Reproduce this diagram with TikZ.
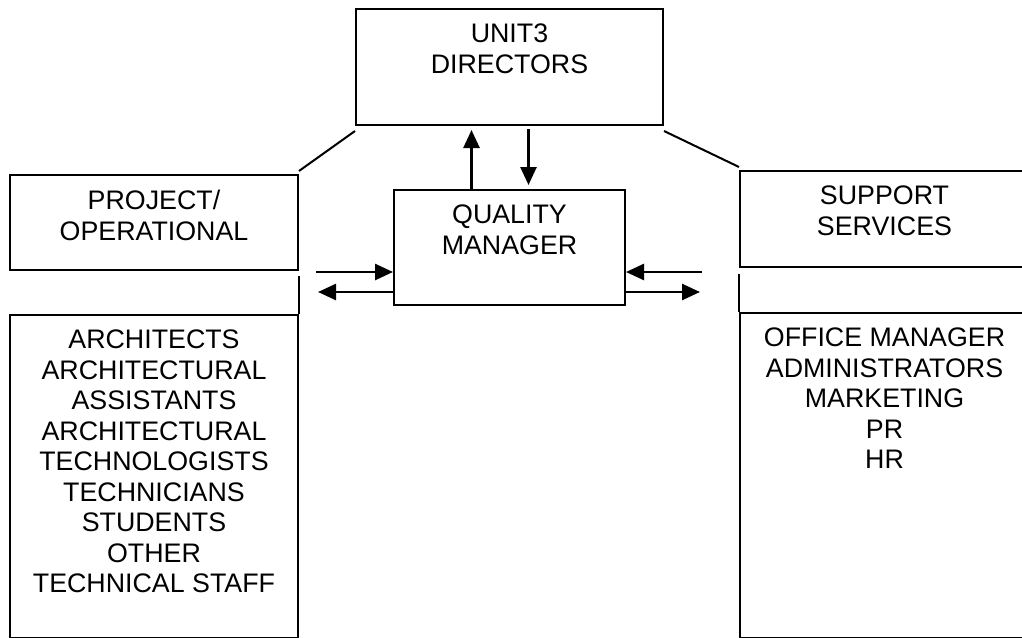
\documentclass[tikz,border=0pt]{standalone}
\usepackage{fontspec}
\setmainfont{Liberation Sans}
\usetikzlibrary{arrows.meta,positioning}

\begin{document}
\begin{tikzpicture}[
                    x=1pt, y=-1pt,
                    unit/.style={
                        rectangle,
                        draw=black,
                        line width=2pt,
                        anchor=north west,
                        inner sep=0pt
                    },
                    caption/.style={
                        align=center,
                        inner sep=0pt,
                        font=\fontsize{26.8}{30.5}\selectfont
                    },
                    link/.style={line width=2pt},
                    flow/.style={->, line width=2.6pt},
                    >={Triangle[length=18pt,width=16pt]}
                ]
                \useasboundingbox (0,0) rectangle (1022,637);
                \newcommand{\mkunit}[5]{
                    \node (#1) [unit, minimum width=#3pt, minimum height=#4pt] at (#2) {};
                    \node (#1txt) [caption, below=16pt of #1.north] {#5};
                }
                \mkunit{dir}{355,8}{307}{116}{UNIT3\\DIRECTORS}
                \mkunit{qm}{393,189}{231}{115}{QUALITY\\MANAGER}

                \mkunit{proj}{9,174}{288}{95}{PROJECT/\\OPERATIONAL}
                \mkunit{staff}{9,314}{288}{323}{ARCHITECTS\\ARCHITECTURAL\\ASSISTANTS\\ARCHITECTURAL\\TECHNOLOGISTS\\TECHNICIANS\\STUDENTS\\OTHER\\TECHNICAL STAFF}

                \mkunit{supp}{739,170}{289}{96}{SUPPORT\\SERVICES}
                \mkunit{admin}{739,312}{289}{325}{OFFICE MANAGER\\ADMINISTRATORS\\MARKETING\\PR\\HR}

                % free ends of the side arrows
                \coordinate (pin) at (316,272);
                \coordinate (pout) at (318,292);
                \coordinate (sin) at (702,272);
                \coordinate (sout) at (700,292);

                \path[link]
                ([yshift=-5pt]dir.south west) edge ([yshift=3pt]proj.north east)
                ([yshift=-5pt]dir.south east) edge ([yshift=3pt]supp.north west)
                ([yshift=-5pt]proj.south east) edge (staff.north east)
                ([yshift=-6pt]supp.south west) edge (admin.north west)
                ;

                \path[flow]
                ([xshift=-38pt]qm.north) edge [shorten >=4pt] ([xshift=-38pt]dir.south)
                ([xshift=19pt]dir.south) edge [shorten <=3pt, shorten >=4pt] ([xshift=19pt]qm.north)
                (pin) edge (pin -| qm.west)
                (pout -| qm.west) edge (pout)
                (sin) edge (sin -| qm.east)
                (sout -| qm.east) edge (sout)
                ;
            \end{tikzpicture}
\end{document}
